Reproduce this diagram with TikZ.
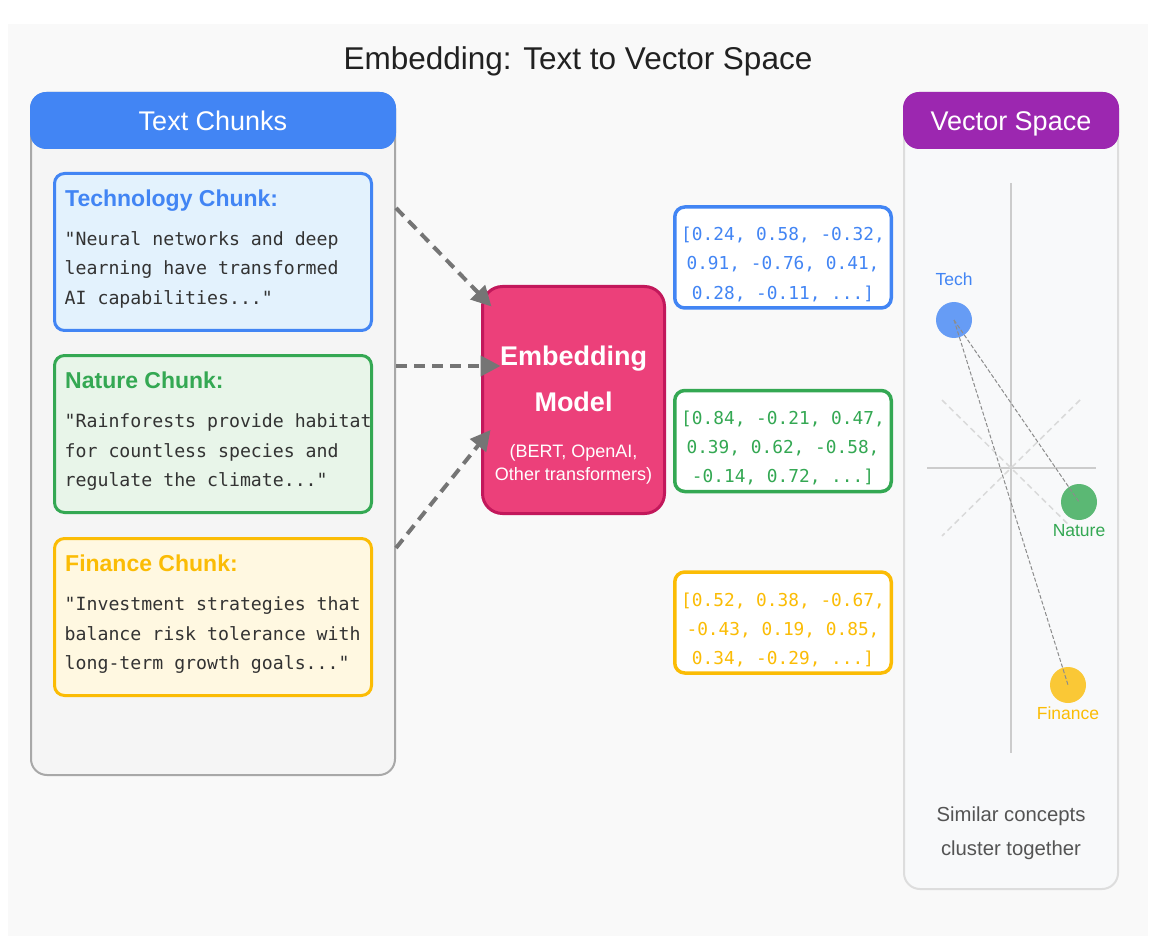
\documentclass[tikz,border=0pt]{standalone}
\usepackage{fontspec}
\usepackage{xcolor}
\usepackage{tikz}
\usetikzlibrary{arrows.meta,shapes,positioning,calc}
\setmainfont{Liberation Sans}
\newfontfamily\monofont{DejaVu Sans Mono}
\definecolor{techblue}{HTML}{4285F4}
\definecolor{naturegreen}{HTML}{34A853}
\definecolor{financegold}{HTML}{FBBC05}
\definecolor{modelpink}{HTML}{EC407A}
\definecolor{modelborder}{HTML}{C2185B}
\definecolor{spacepurple}{HTML}{9C27B0}
\definecolor{techfill}{HTML}{E3F2FD}
\definecolor{naturefill}{HTML}{E8F5E9}
\definecolor{financefill}{HTML}{FFF8E1}
\definecolor{pagegray}{HTML}{F9F9F9}
\definecolor{panelgray}{HTML}{F5F5F5}
\definecolor{panelborder}{HTML}{A8A8A8}
\definecolor{spacefill}{HTML}{F8F9FA}
\definecolor{spaceborder}{HTML}{DDDDDD}
\definecolor{arrowgray}{HTML}{757575}
\definecolor{textdark}{HTML}{333333}

\begin{document}
\begin{tikzpicture}[x=1pt, y=-1pt,
    panel/.style={rectangle, rounded corners=16pt, line width=2pt, inner sep=0pt},
    header/.style={rectangle, rounded corners=16pt, inner sep=0pt, minimum height=57pt, text=white, font=\fontsize{27}{32}\selectfont, text height=21pt, text depth=0pt},
    chunkbox/.style={rectangle, rounded corners=10pt, line width=3pt, minimum width=317pt, minimum height=157pt, inner sep=0pt},
    chunktitle/.style={anchor=base west, inner sep=0pt, font=\bfseries\fontsize{23}{28}\selectfont},
    chunkline/.style={anchor=base west, inner sep=0pt, text=textdark, font=\monofont\fontsize{18.2}{22}\selectfont},
    vecbox/.style={rectangle, rounded corners=10pt, line width=3.5pt, fill=white, minimum width=216.5pt, minimum height=101pt, inner sep=0pt},
    vecline/.style={anchor=base, inner sep=0pt, font=\monofont\fontsize{17.8}{22}\selectfont},
    modeltext/.style={anchor=base, inner sep=0pt, text=white},
    vecdot/.style={circle, minimum size=36pt, inner sep=0pt, fill opacity=0.8},
    dotlabel/.style={anchor=base, inner sep=0pt, font=\fontsize{17.5}{21}\selectfont},
    axis/.style={draw=black!20, line width=2pt},
    guide/.style={draw=black!15, line width=1.5pt, dash pattern=on 6pt off 4pt},
    link/.style={draw=black!45, line width=1pt, dash pattern=on 4pt off 2pt},
    arrow/.style={-{Triangle[length=20pt, width=20pt]}, line width=4pt, draw=arrowgray, dash pattern=on 11pt off 7pt}
]
    \useasboundingbox (0,0) rectangle (1161,949);
    \fill[white] (0,0) rectangle (1161,949);
    \fill[pagegray] (8,24) rectangle (1148,936);

    \node[anchor=base, inner sep=0pt, text=black!87, font=\fontsize{31.5}{37}\selectfont] (title) at (578,70) {Embedding: Text to Vector Space};

    % left panel with the chunks
    \node[panel, draw=panelborder, fill=panelgray, minimum width=364pt, minimum height=682pt] (chunks) at (213,434) {};
    \node[header, fill=techblue, minimum width=366pt] (chunkshead) at (213,120.5) {Text Chunks};

    \node[chunkbox, draw=techblue, fill=techfill] (tech) at (213,252) {};
    \node[chunkbox, draw=naturegreen, fill=naturefill, below=22pt of tech] (nature) {};
    \node[chunkbox, draw=financegold, fill=financefill, below=23pt of nature] (finance) {};

    \node[chunktitle, text=techblue] (techtitle) at ($(tech.north west)+(12,34.5)$) {Technology Chunk:};
    \node[chunkline] (tech1) at ($(tech.north west)+(11.5,73.5)$) {"Neural networks and deep};
    \node[chunkline] (tech2) at ($(tech1.base west)+(0,29.5)$) {learning have transformed};
    \node[chunkline] (tech3) at ($(tech2.base west)+(0,29.5)$) {AI capabilities..."};

    \node[chunktitle, text=naturegreen] (naturetitle) at ($(nature.north west)+(12,34.5)$) {Nature Chunk:};
    \node[chunkline] (nature1) at ($(nature.north west)+(11.5,73.5)$) {"Rainforests provide habitat};
    \node[chunkline] (nature2) at ($(nature1.base west)+(0,29.5)$) {for countless species and};
    \node[chunkline] (nature3) at ($(nature2.base west)+(0,29.5)$) {regulate the climate..."};

    \node[chunktitle, text=financegold] (financetitle) at ($(finance.north west)+(12,34.5)$) {Finance Chunk:};
    \node[chunkline] (finance1) at ($(finance.north west)+(11.5,73.5)$) {"Investment strategies that};
    \node[chunkline] (finance2) at ($(finance1.base west)+(0,29.5)$) {balance risk tolerance with};
    \node[chunkline] (finance3) at ($(finance2.base west)+(0,29.5)$) {long-term growth goals..."};

    % embedding model
    \node[rectangle, rounded corners=20pt, line width=3pt, draw=modelborder, fill=modelpink, minimum width=182pt, minimum height=227pt] (model) at (573.5,400) {};
    \node[modeltext, font=\bfseries\fontsize{27}{32}\selectfont] (model1) at ($(model.center)+(0,-35)$) {Embedding};
    \node[modeltext, font=\bfseries\fontsize{27}{32}\selectfont] (model2) at ($(model.center)+(0,11.7)$) {Model};
    \node[modeltext, font=\fontsize{18}{22}\selectfont] (model3) at ($(model.center)+(0,57.3)$) {(BERT, OpenAI,};
    \node[modeltext, font=\fontsize{18}{22}\selectfont] (model4) at ($(model.center)+(0,80)$) {Other transformers)};

    \coordinate (techout) at (396,208);
    \coordinate (natureout) at (396,366);
    \coordinate (financeout) at (396,548);
    \draw[arrow] (techout) -- ($(model.north west)+(10.5,21.5)$);
    \draw[arrow] (natureout) -- (natureout -| {$(model.west)+(19.5,0)$});
    \draw[arrow] (financeout) -- ($(model.west)+(9.5,30)$);

    % vectors
    \node[vecbox, draw=techblue] (techvec) at (783,257.5) {};
    \node[vecbox, draw=naturegreen, below=79pt of techvec] (naturevec) {};
    \node[vecbox, draw=financegold, below=77pt of naturevec] (financevec) {};

    \node[vecline, text=techblue] (techvec1) at ($(techvec.center)+(0,-16.5)$) {[0.24, 0.58, -0.32,};
    \node[vecline, text=techblue] (techvec2) at ($(techvec.center)+(0,12.5)$) {0.91, -0.76, 0.41,};
    \node[vecline, text=techblue] (techvec3) at ($(techvec.center)+(0,41.8)$) {0.28, -0.11, ...]};

    \node[vecline, text=naturegreen] (naturevec1) at ($(naturevec.center)+(0,-16.5)$) {[0.84, -0.21, 0.47,};
    \node[vecline, text=naturegreen] (naturevec2) at ($(naturevec.center)+(0,12.5)$) {0.39, 0.62, -0.58,};
    \node[vecline, text=naturegreen] (naturevec3) at ($(naturevec.center)+(0,41.8)$) {-0.14, 0.72, ...]};

    \node[vecline, text=financegold] (financevec1) at ($(financevec.center)+(0,-16.5)$) {[0.52, 0.38, -0.67,};
    \node[vecline, text=financegold] (financevec2) at ($(financevec.center)+(0,12.5)$) {-0.43, 0.19, 0.85,};
    \node[vecline, text=financegold] (financevec3) at ($(financevec.center)+(0,41.8)$) {0.34, -0.29, ...]};

    % vector space panel
    \node[panel, draw=spaceborder, fill=spacefill, minimum width=214pt, minimum height=796pt] (space) at (1011,491) {};
    \node[header, fill=spacepurple, minimum width=216pt] (spacehead) at (1011,120.5) {Vector Space};

    \coordinate (origin) at (1011,468);
    \draw[axis] (1011,183) -- (1011,753);
    \draw[axis] (927,468) -- (1096,468);
    \draw[guide] ($(origin)+(-69,-68)$) -- ($(origin)+(69,68)$);
    \draw[guide] ($(origin)+(69,-68)$) -- ($(origin)+(-69,68)$);

    \node[vecdot, fill=techblue] (techdot) at (954,320) {};
    \node[vecdot, fill=naturegreen] (naturedot) at (1079,502) {};
    \node[vecdot, fill=financegold] (financedot) at (1068,685) {};
    \draw[link] (techdot.center) -- (naturedot.center);
    \draw[link] (techdot.center) -- (financedot.center);

    \node[dotlabel, text=techblue] (techlabel) at (954,286) {Tech};
    \node[dotlabel, text=naturegreen] (naturelabel) at (1079,536.5) {Nature};
    \node[dotlabel, text=financegold] (financelabel) at (1068,719) {Finance};

    \node[anchor=base, inner sep=0pt, text=black!67, font=\fontsize{20.3}{24}\selectfont] (note1) at (1011,821.5) {Similar concepts};
    \node[anchor=base, inner sep=0pt, text=black!67, font=\fontsize{20.3}{24}\selectfont] (note2) at (1011,855) {cluster together};
\end{tikzpicture}
\end{document}
